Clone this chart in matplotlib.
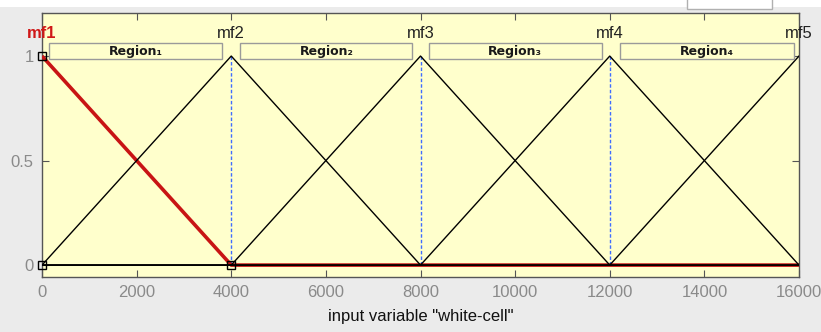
import numpy as np
import matplotlib
matplotlib.use("Agg")
import matplotlib.pyplot as plt
from matplotlib.patches import Rectangle

# ---- data ----
mf_names = ["mf1", "mf2", "mf3", "mf4", "mf5"]
mf_peaks = [0, 4000, 8000, 12000, 16000]
selected_mf = 0
region_labels = ["Region\u2081", "Region\u2082", "Region\u2083", "Region\u2084"]
region_starts = [150, 4190, 8170, 12210]
region_ends = [3810, 7830, 11830, 15890]
divider_x = [4000, 8000, 12000]
marker_x = [0, 0, 4000]
marker_y = [1, 0, 0]
xticks = [0, 2000, 4000, 6000, 8000, 10000, 12000, 14000, 16000]
yticks = [0, 0.5, 1]
xlabel = 'input variable "white-cell"'

W, H = 821, 332
fig = plt.figure(figsize=(W / 100, H / 100), dpi=100)
fig.patch.set_facecolor("#ebebeb")

# white strips of the window (top band and small box)
fig.patches.append(Rectangle((0, 1 - 7 / H), 1, 7 / H, transform=fig.transFigure,
                             facecolor="white", edgecolor="none", zorder=0))
fig.patches.append(Rectangle((687 / W, 1 - 8.5 / H), 85 / W, 10 / H, transform=fig.transFigure,
                             facecolor="white", edgecolor="#b0b0b0", linewidth=1, zorder=1))

ax = fig.add_axes([42 / W, 1 - 277 / H, 757 / W, 264 / H])
ax.set_facecolor("#ffffcc")
ax.set_xlim(0, 16000)
ax.set_ylim(-0.057, 1.206)

xs = np.array(mf_peaks, dtype=float)

# selected mf (red, thick)
for i, name in enumerate(mf_names):
    ys = np.zeros(len(mf_peaks))
    ys[i] = 1.0
    if i == selected_mf:
        ax.plot(xs, ys, color="#c81414", linewidth=2.6, zorder=3, solid_capstyle="butt")
for i, name in enumerate(mf_names):
    ys = np.zeros(len(mf_peaks))
    ys[i] = 1.0
    if i != selected_mf:
        ax.plot(xs, ys, color="black", linewidth=1.0, zorder=4)

# dividing dashed lines
for dx in divider_x:
    ax.plot([dx, dx], [0, 1], color="#3f6cff", linestyle=(0, (2.5, 1.5)), linewidth=1.0, zorder=2)

# square markers
ax.plot(marker_x, marker_y, linestyle="none", marker="s", markersize=6,
        markerfacecolor="none", markeredgecolor="black", markeredgewidth=1.0, zorder=6,
        clip_on=False)

# mf labels
for i, name in enumerate(mf_names):
    sel = i == selected_mf
    ax.text(mf_peaks[i], 1.11, name, ha="center", va="center",
            fontsize=12, family="Liberation Sans",
            color="#d01818" if sel else "#222222",
            fontweight="bold" if sel else "normal", clip_on=False, zorder=7)

# region boxes
y0, y1 = 0.986, 1.062
for lab, s, e in zip(region_labels, region_starts, region_ends):
    ax.add_patch(Rectangle((s, y0), e - s, y1 - y0, facecolor="#ffffcc",
                           edgecolor="#9a9a9a", linewidth=1.0, zorder=5))
    ax.text((s + e) / 2, (y0 + y1) / 2 - 0.004, lab, ha="center", va="center",
            fontsize=9, fontweight="bold", family="DejaVu Sans", color="#1a1a1a", zorder=6)

# axes styling
ax.set_xticks(xticks)
ax.set_xticklabels([str(t) for t in xticks])
ax.set_yticks(yticks)
ax.set_yticklabels(["0", "0.5", "1"])
ax.tick_params(direction="in", length=5, width=0.8, color="#555555",
               top=True, right=True, labelsize=12, labelcolor="#8a8a8a", pad=6)
for lbl in ax.get_xticklabels() + ax.get_yticklabels():
    lbl.set_family("Liberation Sans")
for sp in ax.spines.values():
    sp.set_color("#555555")
    sp.set_linewidth(1.0)
ax.set_xlabel(xlabel, fontsize=12, family="Liberation Sans", color="#111111", labelpad=6)

fig.savefig("out.png", dpi=100, facecolor=fig.get_facecolor())
